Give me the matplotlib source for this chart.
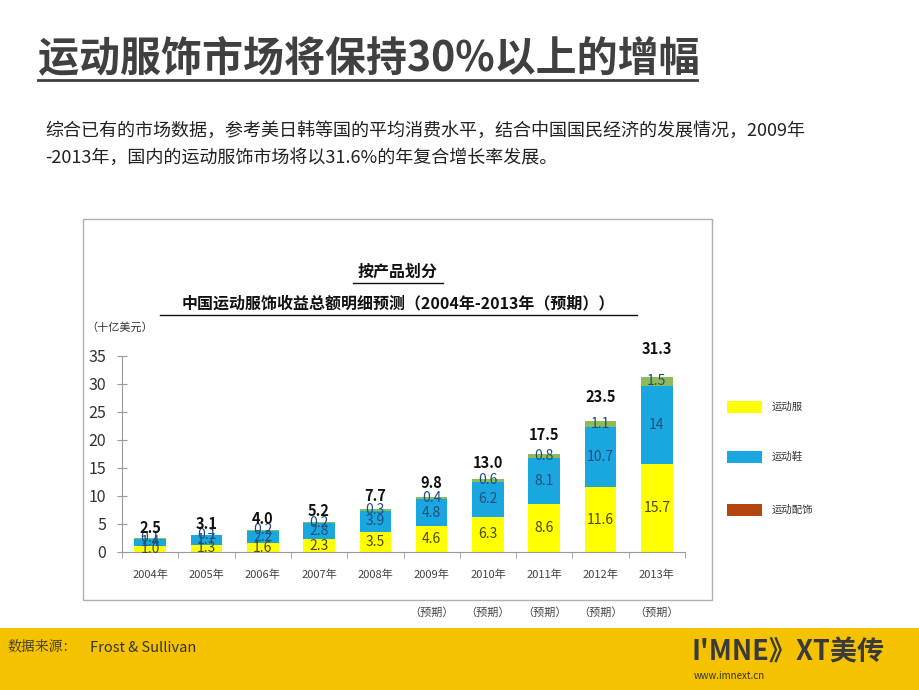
import matplotlib
matplotlib.use("Agg")
import matplotlib.pyplot as plt
from matplotlib.patches import Rectangle
import numpy as np

plt.rcParams['font.family'] = ['Noto Sans CJK SC', 'DejaVu Sans']

# data (billion USD)
years = ['2004年', '2005年', '2006年', '2007年', '2008年',
         '2009年', '2010年', '2011年', '2012年', '2013年']
apparel = [1.0, 1.3, 1.6, 2.3, 3.5, 4.6, 6.3, 8.6, 11.6, 15.7]
shoes = [1.4, 1.7, 2.2, 2.8, 3.9, 4.8, 6.2, 8.1, 10.7, 14]
accessories = [0.1, 0.1, 0.2, 0.2, 0.3, 0.4, 0.6, 0.8, 1.1, 1.5]
totals = [2.5, 3.1, 4.0, 5.2, 7.7, 9.8, 13.0, 17.5, 23.5, 31.3]
forecast = [False] * 5 + [True] * 5
series_names = ['运动服', '运动鞋', '运动配饰']

W, H = 920, 690
fig = plt.figure(figsize=(9.2, 6.9), dpi=100)
fig.patch.set_facecolor('white')

def fx(px):
    return px / W

def fy(py):
    return 1 - py / H

# yellow footer band
fig.add_artist(Rectangle((0, 0), 1, fy(628), transform=fig.transFigure,
                         facecolor='#f5c200', edgecolor='none', zorder=0))

# headline and intro
fig.text(fx(38), fy(58), '运动服饰市场将保持30%以上的增幅', fontsize=29.5,
         fontweight='bold', color='#404040', va='center', ha='left')
fig.add_artist(plt.Line2D([fx(38), fx(697)], [fy(80), fy(80)],
                          transform=fig.transFigure, color='#404040', lw=2))
fig.text(fx(45), fy(131), '综合已有的市场数据，参考美日韩等国的平均消费水平，结合中国国民经济的发展情况，2009年',
         fontsize=13, color='#222222', va='center', ha='left')
fig.text(fx(45), fy(158), '-2013年，国内的运动服饰市场将以31.6%的年复合增长率发展。',
         fontsize=13, color='#222222', va='center', ha='left')

# chart frame
fig.add_artist(Rectangle((fx(83), fy(600)), fx(712 - 83), (600 - 219) / H,
                         transform=fig.transFigure, facecolor='none',
                         edgecolor='#b0b0b0', lw=1))

# chart titles
fig.text(fx(398), fy(272), '按产品划分', fontsize=11.5, fontweight='bold',
         color='#111111', ha='center', va='center')
fig.text(fx(398), fy(303), '中国运动服饰收益总额明细预测（2004年-2013年（预期））',
         fontsize=11.5, fontweight='bold', color='#111111', ha='center', va='center')
fig.add_artist(plt.Line2D([fx(353), fx(443)], [fy(283), fy(283)],
                          transform=fig.transFigure, color='#111111', lw=1))
fig.add_artist(plt.Line2D([fx(160), fx(637)], [fy(315), fy(315)],
                          transform=fig.transFigure, color='#111111', lw=1))
fig.text(fx(86), fy(327), '（十亿美元）', fontsize=8, color='#333333',
         ha='left', va='center')

# axes
ax = fig.add_axes([fx(122), fy(552), fx(685 - 122), (552 - 356) / H])
x = np.arange(len(years))
bw = 0.56
c_app, c_sho, c_acc = '#ffff00', '#1aa7e0', '#8fba5a'
ax.bar(x, apparel, bw, color=c_app, zorder=2)
ax.bar(x, shoes, bw, bottom=apparel, color=c_sho, zorder=2)
bottom3 = np.array(apparel) + np.array(shoes)
ax.bar(x, accessories, bw, bottom=bottom3, color=c_acc, zorder=2)

for i in range(len(x)):
    ax.text(x[i], apparel[i] / 2, f'{apparel[i]:.1f}', ha='center', va='center',
            fontsize=10, color='#4a4a10', zorder=3)
    sl = f'{shoes[i]:g}' if shoes[i] >= 10 and shoes[i] == int(shoes[i]) else f'{shoes[i]:.1f}'
    ax.text(x[i], apparel[i] + shoes[i] / 2, sl, ha='center', va='center',
            fontsize=10, color='#1f4f80', zorder=3)
    ax.text(x[i], bottom3[i] + accessories[i] / 2, f'{accessories[i]:.1f}',
            ha='center', va='center', fontsize=10, color='#1f4f80', zorder=3)
    ax.text(x[i], totals[i] + 0.1 + 0.11 * totals[i], f'{totals[i]:.1f}',
            ha='center', va='bottom', fontsize=10.5, fontweight='bold',
            color='#111111', zorder=4)

ax.set_ylim(0, 35)
ax.set_xlim(-0.5, len(x) - 0.5)
ax.set_yticks(range(0, 36, 5))
ax.set_xticks(x)
ax.set_xticklabels(years, fontsize=8, color='#444444')
ax.tick_params(axis='y', labelsize=11.5, labelcolor='#333333', direction='inout',
               length=7, color='#999999', pad=8)
ax.tick_params(axis='x', length=0, pad=13)
ax.set_xticks(np.arange(-0.5, len(x), 1), minor=True)
ax.tick_params(axis='x', which='minor', length=4, direction='out', color='#999999')
for s in ['top', 'right']:
    ax.spines[s].set_visible(False)
ax.spines['left'].set_color('#999999')
ax.spines['bottom'].set_color('#999999')
ax.patch.set_alpha(0)

for i in range(len(x)):
    if forecast[i]:
        fig.text(fx(122 + (i + 0.5) * 56.3), fy(613), '（预期）', fontsize=8,
                 color='#444444', ha='center', va='center')

# legend
leg_colors = [c_app, c_sho, '#b4450f']
leg_y = [407, 457, 510]
for name, col, yy in zip(series_names, leg_colors, leg_y):
    fig.add_artist(Rectangle((fx(727), fy(yy + 6)), fx(35), 12 / H,
                             transform=fig.transFigure, facecolor=col, edgecolor='none'))
    fig.text(fx(772), fy(yy), name, fontsize=7.5, color='#333333', ha='left', va='center')

# footer
fig.text(fx(8), fy(648), '数据来源：', fontsize=10, color='#333333', ha='left', va='center',
         family=['Noto Serif CJK SC', 'Noto Sans CJK SC', 'DejaVu Sans'])
fig.text(fx(90), fy(648), 'Frost & Sullivan', fontsize=10.5, color='#333333',
         ha='left', va='center')
fig.text(fx(692), fy(653), 'I\'MNE》XT美传', fontsize=19.5, fontweight='bold',
         color='#3a3a3a', ha='left', va='center')
fig.text(fx(694), fy(676), 'www.imnext.cn', fontsize=7, color='#333333',
         ha='left', va='center')

fig.savefig('out.png', dpi=100)
